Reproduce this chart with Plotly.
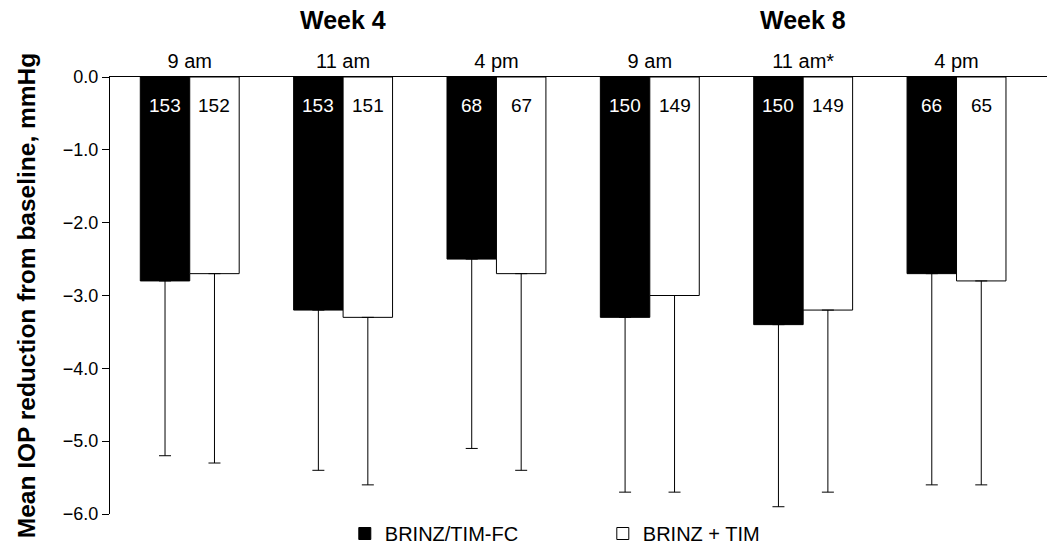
import plotly.graph_objects as go

times = ["9 am", "11 am", "4 pm", "9 am", "11 am*", "4 pm"]
weeks = ["Week 4", "Week 8"]
fc_mean = [-2.8, -3.2, -2.5, -3.3, -3.4, -2.7]
fc_err = [2.4, 2.2, 2.6, 2.4, 2.5, 2.9]
fc_n = [153, 153, 68, 150, 150, 66]
tim_mean = [-2.7, -3.3, -2.7, -3.0, -3.2, -2.8]
tim_err = [2.6, 2.3, 2.7, 2.7, 2.5, 2.8]
tim_n = [152, 151, 67, 149, 149, 65]
yticks = [0, -1, -2, -3, -4, -5, -6]

FONT = "Liberation Sans, Arial, sans-serif"
xs = list(range(len(times)))
bargap = 0.355
half = (1 - bargap) / 4  # offset of each bar centre from group centre

fig = go.Figure()
fig.add_trace(go.Bar(
    x=xs, y=fc_mean, name="BRINZ/TIM-FC",
    marker=dict(color="black", line=dict(color="black", width=1)),
    error_y=dict(type="data", symmetric=False, array=[0] * len(xs), arrayminus=fc_err,
                 color="black", thickness=1, width=6),
))
fig.add_trace(go.Bar(
    x=xs, y=tim_mean, name="BRINZ + TIM",
    marker=dict(color="white", line=dict(color="black", width=1)),
    error_y=dict(type="data", symmetric=False, array=[0] * len(xs), arrayminus=tim_err,
                 color="black", thickness=1, width=6),
))

ann = []
for i in xs:
    ann.append(dict(x=i - half, y=0, xref="x", yref="y", yshift=-28, text=str(fc_n[i]),
                    showarrow=False, font=dict(family=FONT, size=19, color="white")))
    ann.append(dict(x=i + half, y=0, xref="x", yref="y", yshift=-28, text=str(tim_n[i]),
                    showarrow=False, font=dict(family=FONT, size=19, color="black")))
for w, ci in zip(weeks, [1, 4]):
    ann.append(dict(x=ci, y=1, xref="x", yref="paper", yshift=57, yanchor="middle",
                    text="<b>" + w + "</b>", showarrow=False,
                    font=dict(family=FONT, size=25, color="black")))

fig.update_layout(
    width=1047, height=546,
    margin=dict(l=110, r=0, t=77, b=32, autoexpand=False),
    paper_bgcolor="white", plot_bgcolor="white",
    barmode="group", bargap=bargap, bargroupgap=0,
    font=dict(family=FONT, size=17, color="black"),
    annotations=ann,
    showlegend=True,
    hovermode=False,
    legend=dict(orientation="h", x=0.2506, xanchor="left", y=0.0, yanchor="top",
                font=dict(family=FONT, size=20, color="black"),
                entrywidth=213, entrywidthmode="pixels", itemwidth=30,
                bgcolor="rgba(0,0,0,0)"),
    xaxis=dict(side="top", tickvals=xs, ticktext=times, range=[-0.52, 5.59],
               showline=True, linecolor="black", linewidth=1, ticks="",
               showgrid=False, zeroline=False, tickfont=dict(size=20),
               automargin=False),
    yaxis=dict(range=[-6, 0], tickvals=yticks,
               ticktext=[f"{v:.1f}".replace("-", "\u2212") if v != 0 else "0.0" for v in yticks],
               showline=True, linecolor="black", linewidth=1, ticks="outside",
               ticklen=7, tickcolor="black", showgrid=False, zeroline=False,
               tickfont=dict(size=18), automargin=False,
               title=dict(text="<b>Mean IOP reduction from baseline, mmHg</b>",
                          font=dict(size=24.5), standoff=20)),
)
fig.write_html("out.html", config={"displayModeBar": False},
               post_script="document.body.style.margin='0';")
